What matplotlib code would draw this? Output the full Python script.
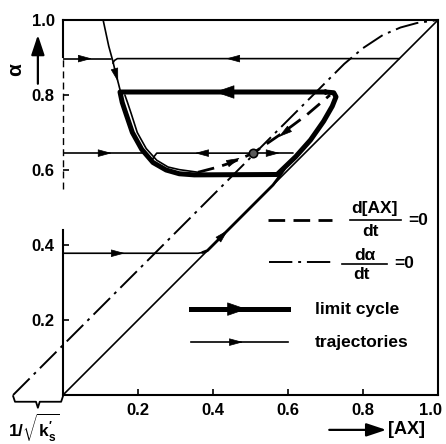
import matplotlib
matplotlib.use('Agg')
import matplotlib.pyplot as plt
import matplotlib.transforms as mtransforms

plt.rcParams['font.family'] = ['Liberation Sans', 'DejaVu Sans']
plt.rcParams['font.weight'] = 'bold'
plt.rcParams['mathtext.fontset'] = 'custom'
plt.rcParams['mathtext.rm'] = 'Liberation Sans:bold'
plt.rcParams['mathtext.it'] = 'Liberation Sans:bold'
plt.rcParams['mathtext.bf'] = 'Liberation Sans:bold'

# ---- data ----
ticks = [0.2, 0.4, 0.6, 0.8, 1.0]
tick_labels = ['0.2', '0.4', '0.6', '0.8', '1.0']

# d[AX]/dt = 0 (dashed middle branch)
ax_null_x = [0.36, 0.41, 0.45, 0.507, 0.587, 0.65, 0.712]
ax_null_y = [0.594, 0.607, 0.62, 0.645, 0.70, 0.747, 0.80]

# d(alpha)/dt = 0 (dash-dot)
al_null_x = [-0.133, 0.70, 0.75, 0.80, 0.853, 0.90, 0.944, 1.0]
al_null_y = [0.0, 0.833, 0.883, 0.925, 0.96, 0.98, 0.992, 1.0]

# limit cycle
cycle_x = [0.70, 0.152, 0.158, 0.168, 0.185, 0.21, 0.24, 0.275, 0.31, 0.35,
           0.571, 0.62, 0.66, 0.695, 0.718, 0.728, 0.722, 0.70]
cycle_y = [0.808, 0.808, 0.78, 0.75, 0.70, 0.655, 0.62, 0.60, 0.59, 0.587,
           0.588, 0.635, 0.68, 0.73, 0.77, 0.795, 0.806, 0.808]

# inner branch along the U
inner_x = [0.165, 0.172, 0.182, 0.198, 0.222, 0.25, 0.28, 0.31, 0.36]
inner_y = [0.80, 0.78, 0.75, 0.70, 0.657, 0.626, 0.608, 0.601, 0.594]

# trajectories
top_x = [0.107, 0.122, 0.133, 0.14, 0.148, 0.153]
top_y = [1.0, 0.93, 0.89, 0.86, 0.83, 0.81]
t09l_x = [0.0, 0.128]
t09l_y = [0.897, 0.897]
t09r_x = [0.897, 0.145, 0.137, 0.133]
t09r_y = [0.897, 0.897, 0.892, 0.885]
t64l_x = [0.0, 0.213]
t64l_y = [0.645, 0.645]
t64m_x = [0.507, 0.25, 0.243, 0.238]
t64m_y = [0.645, 0.645, 0.636, 0.627]
t64r_x = [0.507, 0.612]
t64r_y = [0.645, 0.645]
t38_x = [0.0, 0.36, 0.372]
t38_y = [0.378, 0.378, 0.38]
diagtr_x = [0.372, 0.385, 0.56, 0.575, 0.59]
diagtr_y = [0.38, 0.385, 0.56, 0.58, 0.602]
diag_x = [0.0, 1.0]
diag_y = [0.0, 1.0]
fixed_x = [0.507]
fixed_y = [0.645]

fig = plt.figure(figsize=(4.46, 4.44), dpi=100)
ax = fig.add_axes([63/446, 49/444, 375/446, 375/444])
ax.set_xlim(0, 1)
ax.set_ylim(0, 1)
ax.spines['left'].set_visible(False)
for s in ['top', 'right', 'bottom']:
    ax.spines[s].set_linewidth(1.5)
ax.set_xticks(ticks)
ax.set_xticklabels(tick_labels)
ax.set_yticks(ticks)
ax.set_yticklabels(tick_labels)
ax.tick_params(direction='in', length=4, width=1.2, labelsize=12, pad=6)
# keep the last x label inside the picture
lab = ax.get_xticklabels()[-1]
lab.set_transform(lab.get_transform() + mtransforms.ScaledTranslation(-7/100, 0, fig.dpi_scale_trans))

# broken left axis line
ax.plot([0, 0], [0, 0.44], color='k', lw=1.5, clip_on=False)
ax.plot([0, 0], [0.55, 0.9], color='k', lw=1.0, ls=(0, (5, 3)), clip_on=False)
ax.plot([0, 0], [0.9, 1.0], color='k', lw=1.5, clip_on=False)


def head(x, y, dx, dy, big=False):
    hl, hw, ms = (1.3, 0.45, 10) if big else (1.1, 0.3, 8)
    ax.annotate('', xy=(x, y), xytext=(x - dx*0.01, y - dy*0.01),
                arrowprops=dict(arrowstyle='-|>,head_length=%s,head_width=%s' % (hl, hw),
                                mutation_scale=ms, fc='k', ec='k', lw=0.5,
                                shrinkA=0, shrinkB=0),
                annotation_clip=False)


thin = dict(color='k', lw=1.2, solid_capstyle='round', solid_joinstyle='round')
ax.plot(diag_x, diag_y, **thin)
ax.plot(al_null_x, al_null_y, color='k', lw=1.4, ls=(0, (12, 3, 1.5, 3)), clip_on=False)
ax.plot(ax_null_x, ax_null_y, color='k', lw=2.0, ls=(0, (6, 3)))

ax.plot(top_x, top_y, **thin)
ax.plot(t09l_x, t09l_y, **thin)
ax.plot(t09r_x, t09r_y, **thin)
ax.plot(t64l_x, t64l_y, **thin)
ax.plot(t64m_x, t64m_y, **thin)
ax.plot(t64r_x, t64r_y, **thin)
ax.plot(t38_x, t38_y, **thin)
ax.plot(diagtr_x, diagtr_y, color='k', lw=2.0, solid_capstyle='round')
ax.plot(inner_x, inner_y, **thin)
ax.plot(cycle_x, cycle_y, color='k', lw=3.6, solid_capstyle='round', solid_joinstyle='round')
ax.plot(fixed_x, fixed_y, 'o', ms=6, mfc='0.35', mec='k', mew=1.2)

# arrow heads
head(0.077, 0.897, 1, 0)
head(0.435, 0.897, -1, 0)
head(0.147, 0.835, 0.28, -1)
head(0.405, 0.808, -1, 0, big=True)
head(0.13, 0.645, 1, 0)
head(0.352, 0.645, -1, 0)
head(0.578, 0.645, 1, 0)
head(0.165, 0.378, 1, 0)
head(0.44, 0.44, 1, 1)
head(0.472, 0.632, 1, 0.45)
head(0.575, 0.688, -1, -0.75)

# legend
tr = ax.transAxes
ax.plot([0.547, 0.717], [0.466, 0.466], color='k', lw=2.0, ls=(0, (6, 3)), transform=tr)
ax.text(0.832, 0.497, 'd[AX]', ha='center', va='center', fontsize=12.5, transform=tr)
ax.plot([0.765, 0.9], [0.466, 0.466], color='k', lw=1.2, transform=tr)
ax.text(0.82, 0.437, 'dt', ha='center', va='center', fontsize=12.5, transform=tr)
ax.text(0.948, 0.466, '=0', ha='center', va='center', fontsize=12.5, transform=tr)

ax.plot([0.55, 0.72], [0.355, 0.355], color='k', lw=1.4, ls=(0, (12, 3, 1.5, 3)), transform=tr)
ax.text(0.806, 0.372, 'd\u03b1', ha='center', va='center', fontsize=12.5, transform=tr)
ax.plot([0.745, 0.865], [0.349, 0.349], color='k', lw=1.2, transform=tr)
ax.text(0.795, 0.321, 'dt', ha='center', va='center', fontsize=12.5, transform=tr)
ax.text(0.91, 0.35, '=0', ha='center', va='center', fontsize=12.5, transform=tr)

ax.plot([0.34, 0.6], [0.229, 0.229], color='k', lw=3.6, transform=tr)
ax.annotate('', xy=(0.49, 0.229), xytext=(0.48, 0.229), xycoords=tr,
            arrowprops=dict(arrowstyle='-|>,head_length=1.3,head_width=0.45',
                            mutation_scale=10, fc='k', ec='k', lw=0.5, shrinkA=0, shrinkB=0))
ax.text(0.672, 0.229, 'limit cycle', ha='left', va='center', fontsize=12.5, transform=tr)
ax.plot([0.34, 0.6], [0.141, 0.141], color='k', lw=1.2, transform=tr)
ax.annotate('', xy=(0.48, 0.141), xytext=(0.47, 0.141), xycoords=tr,
            arrowprops=dict(arrowstyle='-|>,head_length=1.1,head_width=0.3',
                            mutation_scale=8, fc='k', ec='k', lw=0.5, shrinkA=0, shrinkB=0))
ax.text(0.672, 0.141, 'trajectories', ha='left', va='center', fontsize=12.5, transform=tr)

# axis labels with arrows
ax.annotate('', xy=(-0.067, 0.96), xytext=(-0.067, 0.83), xycoords=tr,
            arrowprops=dict(arrowstyle='-|>,head_length=1.2,head_width=0.4',
                            mutation_scale=10, fc='k', ec='k', lw=1.6, shrinkA=0, shrinkB=0),
            annotation_clip=False)
ax.text(-0.125, 0.867, '\u03b1', rotation=90, ha='center', va='center', fontsize=15,
        transform=tr, clip_on=False)
ax.annotate('', xy=(0.862, -0.093), xytext=(0.71, -0.093), xycoords=tr,
            arrowprops=dict(arrowstyle='-|>,head_length=1.2,head_width=0.4',
                            mutation_scale=10, fc='k', ec='k', lw=1.6, shrinkA=0, shrinkB=0),
            annotation_clip=False)
ax.text(0.866, -0.093, '[AX]', ha='left', va='center', fontsize=13, transform=tr, clip_on=False)

# brace under the negative intercept
ax.plot([-0.133, -0.128, -0.072, -0.067, -0.062, -0.005, 0.0],
        [-0.003, -0.018, -0.018, -0.034, -0.018, -0.018, -0.003],
        color='k', lw=1.3, transform=tr, clip_on=False)
ax.text(-0.077, -0.088, r'1/$\sqrt{\mathrm{k}_\mathrm{s}^{\prime}}$', ha='center', va='center',
        fontsize=12.5, transform=tr, clip_on=False)

fig.savefig('out.png', dpi=100)
